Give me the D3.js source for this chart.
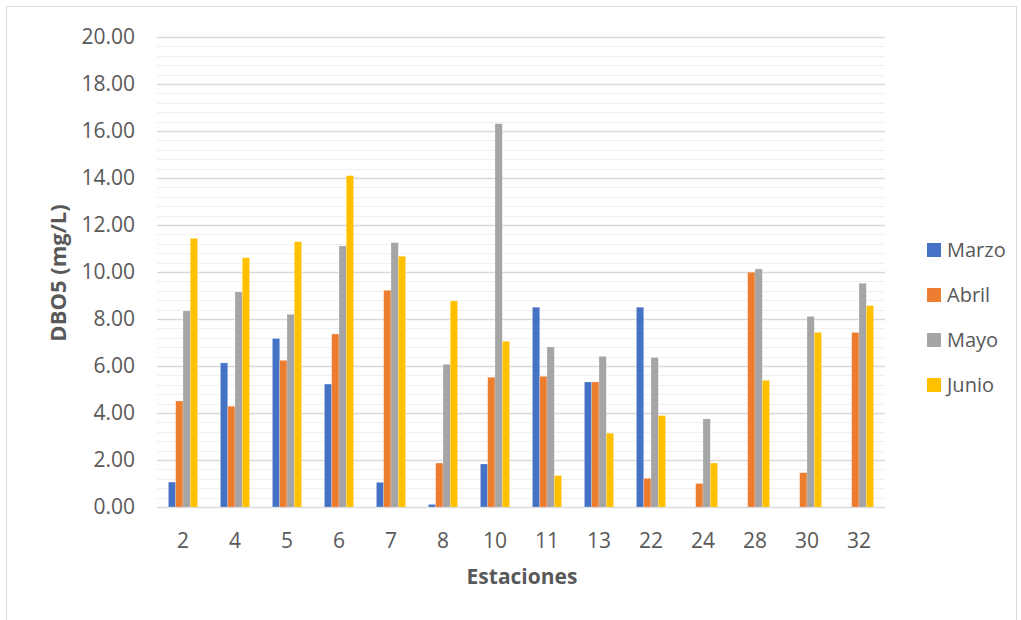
<!DOCTYPE html>
<html>
<head>
<meta charset="utf-8">
<script src="https://cdn.jsdelivr.net/npm/d3@7"></script>
<style>
  html, body { margin: 0; padding: 0; background: #fff; }
  svg { display: block; font-family: "Open Sans", "Noto Sans", sans-serif; }
</style>
</head>
<body>
<svg id="chart" width="1021" height="620"></svg>
<script>
// Sampling stations and monthly DBO5 readings (mg/L); null = no measurement
const estaciones = ["2", "4", "5", "6", "7", "8", "10", "11", "13", "22", "24", "28", "30", "32"];
const marzo = [1.06, 6.13, 7.17, 5.23, 1.05, 0.11, 1.83, 8.50, 5.32, 8.50, null, null, null, null];
const abril = [4.51, 4.29, 6.24, 7.36, 9.22, 1.87, 5.52, 5.56, 5.32, 1.22, 1.00, 9.99, 1.46, 7.43];
const mayo  = [8.34, 9.15, 8.20, 11.11, 11.25, 6.07, 16.31, 6.81, 6.41, 6.36, 3.75, 10.13, 8.11, 9.52];
const junio = [11.43, 10.61, 11.29, 14.10, 10.67, 8.77, 7.05, 1.34, 3.14, 3.89, 1.87, 5.39, 7.43, 8.57];
const yTicks = [0, 2, 4, 6, 8, 10, 12, 14, 16, 18, 20];

const series = [
  { name: "Marzo", values: marzo, color: "#4472C4" },
  { name: "Abril", values: abril, color: "#ED7D31" },
  { name: "Mayo",  values: mayo,  color: "#A5A5A5" },
  { name: "Junio", values: junio, color: "#FFC000" }
];

const svg = d3.select("#chart");

// chart frame
svg.append("rect")
  .attr("x", 6.5).attr("y", 6.5)
  .attr("width", 1010).attr("height", 640)
  .attr("fill", "none").attr("stroke", "#d9d9d9").attr("stroke-width", 1);

const plot = { left: 157, right: 885, top: 37, bottom: 507 };

const x = d3.scaleBand().domain(estaciones).range([plot.left, plot.right]).padding(0);
const y = d3.scaleLinear().domain([0, 20]).range([plot.bottom, plot.top]);

// minor gridlines
const minor = d3.range(0, 20.0001, 0.4).filter(v => Math.abs(v / 2 - Math.round(v / 2)) > 1e-6);
svg.append("g").selectAll("line").data(minor).join("line")
  .attr("x1", plot.left).attr("x2", plot.right)
  .attr("y1", d => Math.round(y(d)) + 0.5).attr("y2", d => Math.round(y(d)) + 0.5)
  .attr("stroke", "#f0f0f0").attr("stroke-width", 1);

// major gridlines
svg.append("g").selectAll("line").data(yTicks).join("line")
  .attr("x1", plot.left).attr("x2", plot.right)
  .attr("y1", d => Math.round(y(d)) + 0.5).attr("y2", d => Math.round(y(d)) + 0.5)
  .attr("stroke", "#d9d9d9").attr("stroke-width", 1.4);

// y axis labels
const yAxis = d3.axisLeft(y).tickValues(yTicks).tickFormat(d3.format(".2f")).tickSize(0).tickPadding(22);
const gy = svg.append("g").attr("transform", `translate(${plot.left},0)`).call(yAxis);
gy.select(".domain").remove();
gy.selectAll("text").attr("fill", "#595959").style("font-size", "21px")
  .style("font-family", "'Open Sans', sans-serif");

// x axis labels
const xAxis = d3.axisBottom(x).tickSize(0).tickPadding(26);
const gx = svg.append("g").attr("transform", `translate(0,${plot.bottom})`).call(xAxis);
gx.select(".domain").remove();
gx.selectAll("text").attr("fill", "#595959").style("font-size", "21px")
  .style("font-family", "'Open Sans', sans-serif");

// grouped bars
const barW = 7.3;
const groupW = barW * series.length;
const sub = d3.scaleBand().domain(series.map(s => s.name))
  .range([0, groupW]).padding(0);

series.forEach(s => {
  svg.append("g").selectAll("rect")
    .data(estaciones.map((e, i) => ({ e, v: s.values[i] })).filter(d => d.v != null))
    .join("rect")
    .attr("x", d => x(d.e) + x.bandwidth() / 2 - groupW / 2 + sub(s.name))
    .attr("y", d => y(d.v))
    .attr("width", sub.bandwidth())
    .attr("height", d => y(0) - y(d.v))
    .attr("fill", s.color)
    .attr("stroke", "#ffffff").attr("stroke-opacity", 0.35).attr("stroke-width", 0.6);
});

// axis titles
svg.append("text")
  .attr("transform", `translate(66,${(plot.top + plot.bottom) / 2 + 1}) rotate(-90)`)
  .attr("text-anchor", "middle")
  .attr("fill", "#595959")
  .style("font-size", "22px").style("font-weight", "bold")
  .text("DBO5 (mg/L)");

svg.append("text")
  .attr("x", 522).attr("y", 584)
  .attr("text-anchor", "middle")
  .attr("fill", "#595959")
  .style("font-size", "21px").style("font-weight", "bold")
  .text("Estaciones");

// legend
const legend = svg.append("g").attr("transform", "translate(927,243)");
const items = legend.selectAll("g").data(series).join("g")
  .attr("transform", (d, i) => `translate(0,${i * 45})`);
items.append("rect").attr("width", 14).attr("height", 14).attr("fill", d => d.color);
items.append("text").attr("x", 20).attr("y", 14)
  .attr("fill", "#595959").style("font-size", "20px")
  .text(d => d.name);
</script>
</body>
</html>
